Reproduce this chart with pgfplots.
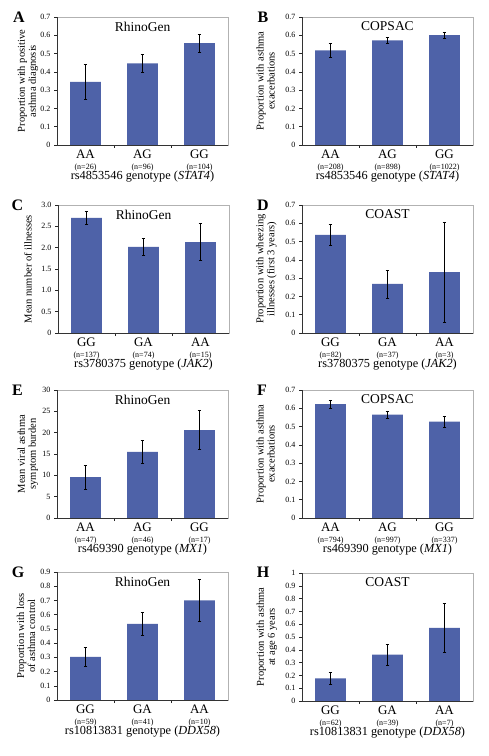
\documentclass[border=0pt]{standalone}
\usepackage{fontspec}
\setmainfont{Liberation Serif}
\usepackage{pgfplots}
\pgfplotsset{compat=1.18}
\definecolor{barblue}{RGB}{78,98,168}
\newcommand{\xl}[2]{#1\\[-0.5pt]{\fontsize{8}{8}\selectfont(n=#2)}}
\pgfplotsset{panel/.style={
  width=171pt, height=128pt, scale only axis,
  xmin=-0.5, xmax=2.5, ymin=0,
  xtick={0,1,2}, minor xtick={0.5,1.5},
  every major x tick/.append style={draw=none},
  tick align=outside, xtick pos=bottom, ytick pos=left,
  major tick length=3pt, minor tick length=3pt,
  axis line style={draw=gray!60, line width=0.6pt},
  tick style={black!85, line width=0.5pt},
  ybar, bar width=0.54,
  /pgf/number format/assume math mode=true,
  yticklabel style={font=\fontsize{8}{8}\selectfont},
  xticklabel style={font=\fontsize{13}{11}\selectfont, align=center, yshift=1.5pt},
  xlabel style={font=\fontsize{12.3}{12}\selectfont, at={(axis description cs:0.5,-0.25)}, anchor=center},
  ylabel style={font=\fontsize{10.5}{11}\selectfont, align=center, anchor=center},
  title style={font=\fontsize{13.5}{14}\selectfont, anchor=north, yshift=-7.5pt},
  extra description/.code={\draw[black!80, line width=0.6pt] (rel axis cs:0,1) -- (rel axis cs:0,0) -- (rel axis cs:1,0);},
}}
\pgfplotsset{bars/.style={fill=barblue, draw=none,
  error bars/.cd, y dir=both, y explicit,
  error bar style={black, line width=0.6pt},
  error mark options={rotate=90, mark size=1.8pt, black, line width=0.6pt}}}
\begin{document}
\begin{tikzpicture}
\path[use as bounding box] (0,0) rectangle (489pt,-756pt);
% A
\begin{axis}[panel, at={(57pt,-17pt)}, anchor=north west, ymax=0.7,
  ytick={0,0.1,0.2,0.3,0.4,0.5,0.6,0.7},
  xticklabels={{\xl{AA}{26}},{\xl{AG}{96}},{\xl{GG}{104}}},
  title={RhinoGen}, xlabel={rs4853546 genotype (\textit{STAT4})},
  ylabel={Proportion with positive\\asthma diagnosis},
  ylabel style={at={(axis description cs:-0.17,0.5)}}]
\addplot[bars] coordinates {(0,0.345) +- (0,0.095) (1,0.447) +- (0,0.05) (2,0.557) +- (0,0.05)};
\end{axis}
% B
\begin{axis}[panel, at={(302pt,-17pt)}, anchor=north west, ymax=0.7,
  ytick={0,0.1,0.2,0.3,0.4,0.5,0.6,0.7},
  xticklabels={{\xl{AA}{208}},{\xl{AG}{898}},{\xl{GG}{1022}}},
  title={COPSAC}, xlabel={rs4853546 genotype (\textit{STAT4})},
  ylabel={Proportion with asthma\\exacerbations},
  ylabel style={at={(axis description cs:-0.213,0.5)}}]
\addplot[bars] coordinates {(0,0.517) +- (0,0.037) (1,0.572) +- (0,0.017) (2,0.601) +- (0,0.018)};
\end{axis}
% C
\begin{axis}[panel, at={(58pt,-205pt)}, anchor=north west, ymax=3,
  ytick={0,0.5,1,1.5,2,2.5,3}, yticklabels={0,0.5,1.0,1.5,2.0,2.5,3.0},
  xticklabels={{\xl{GG}{137}},{\xl{GA}{74}},{\xl{AA}{15}}},
  title={RhinoGen}, xlabel={rs3780375 genotype (\textit{JAK2})},
  ylabel={Mean number of illnesses},
  ylabel style={at={(axis description cs:-0.175,0.5)}}]
\addplot[bars] coordinates {(0,2.70) +- (0,0.15) (1,2.02) +- (0,0.205) (2,2.13) +- (0,0.435)};
\end{axis}
% D
\begin{axis}[panel, at={(302pt,-205pt)}, anchor=north west, ymax=0.7,
  ytick={0,0.1,0.2,0.3,0.4,0.5,0.6,0.7},
  xticklabels={{\xl{GG}{82}},{\xl{GA}{37}},{\xl{AA}{3}}},
  title={COAST}, xlabel={rs3780375 genotype (\textit{JAK2})},
  ylabel={Proportion with wheezing\\illnesses (first 3 years)},
  ylabel style={at={(axis description cs:-0.208,0.5)}}]
\addplot[bars] coordinates {(0,0.536) +- (0,0.057) (1,0.268) +- (0,0.076) (2,0.333) +- (0,0.275)};
\end{axis}
% E
\begin{axis}[panel, at={(57pt,-390pt)}, anchor=north west, ymax=30,
  ytick={0,5,10,15,20,25,30},
  xticklabels={{\xl{AA}{47}},{\xl{AG}{46}},{\xl{GG}{17}}},
  title={RhinoGen}, xlabel={rs469390 genotype (\textit{MX1})},
  ylabel={Mean viral asthma\\symptom burden},
  ylabel style={at={(axis description cs:-0.17,0.5)}}]
\addplot[bars] coordinates {(0,9.6) +- (0,2.8) (1,15.5) +- (0,2.7) (2,20.6) +- (0,4.6)};
\end{axis}
% F
\begin{axis}[panel, at={(302pt,-390pt)}, anchor=north west, ymax=0.7,
  ytick={0,0.1,0.2,0.3,0.4,0.5,0.6,0.7},
  xticklabels={{\xl{AA}{794}},{\xl{AG}{997}},{\xl{GG}{337}}},
  title={COPSAC}, xlabel={rs469390 genotype (\textit{MX1})},
  ylabel={Proportion with asthma\\exacerbations},
  ylabel style={at={(axis description cs:-0.213,0.5)}}]
\addplot[bars] coordinates {(0,0.623) +- (0,0.022) (1,0.566) +- (0,0.02) (2,0.527) +- (0,0.031)};
\end{axis}
% G
\begin{axis}[panel, at={(57pt,-572pt)}, anchor=north west, ymax=0.9,
  ytick={0,0.1,0.2,0.3,0.4,0.5,0.6,0.7,0.8,0.9},
  xticklabels={{\xl{GG}{59}},{\xl{GA}{41}},{\xl{AA}{10}}},
  title={RhinoGen}, xlabel={rs10813831 genotype (\textit{DDX58})},
  ylabel={Proportion with loss\\of asthma control},
  ylabel style={at={(axis description cs:-0.181,0.5)}}]
\addplot[bars] coordinates {(0,0.304) +- (0,0.064) (1,0.535) +- (0,0.079) (2,0.70) +- (0,0.148)};
\end{axis}
% H
\begin{axis}[panel, at={(302pt,-573pt)}, anchor=north west, ymax=1,
  ytick={0,0.1,0.2,0.3,0.4,0.5,0.6,0.7,0.8,0.9,1},
  xticklabels={{\xl{GG}{62}},{\xl{GA}{39}},{\xl{AA}{7}}},
  title={COAST}, xlabel={rs10813831 genotype (\textit{DDX58})},
  ylabel={Proportion with asthma\\at age 6 years},
  ylabel style={at={(axis description cs:-0.205,0.5)}}]
\addplot[bars] coordinates {(0,0.177) +- (0,0.05) (1,0.362) +- (0,0.08) (2,0.571) +- (0,0.19)};
\end{axis}
% panel letters
\begin{scope}[every node/.style={font=\fontsize{16}{16}\selectfont\bfseries}]
\node at (19pt,-17pt) {A};
\node at (263pt,-17pt) {B};
\node at (17.5pt,-205pt) {C};
\node at (263pt,-205pt) {D};
\node at (17.5pt,-390pt) {E};
\node at (262pt,-390pt) {F};
\node at (18pt,-572pt) {G};
\node at (263pt,-572pt) {H};
\end{scope}
\end{tikzpicture}
\end{document}
